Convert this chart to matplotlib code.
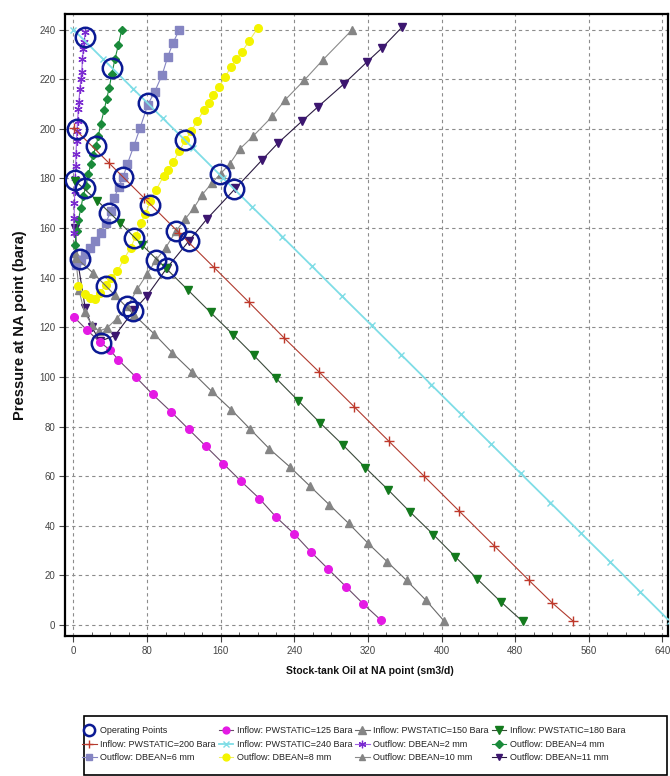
import matplotlib
matplotlib.use("Agg")
import matplotlib.pyplot as plt
from matplotlib.lines import Line2D
from matplotlib.patches import Rectangle
from matplotlib.ticker import MultipleLocator

plt.rcParams['font.family'] = ['Liberation Sans', 'DejaVu Sans']

# ---------------- data ----------------
# Inflow (IPR) curves
q_in125 = [1, 15, 29, 40, 48.5, 67.7, 86, 106, 125, 144, 163, 182, 202, 220, 240, 258, 277, 296, 315, 334]
p_in125 = [124, 118.8, 114, 110.8, 107, 100, 93, 86, 79, 72, 65, 58, 51, 43.6, 36.7, 29.5, 22.5, 15.5, 8.5, 2]

q_in150 = [3, 21, 45, 66, 87.6, 107.5, 129, 150, 171.5, 192, 213, 235.6, 257, 278, 299, 320, 341, 362, 383, 403]
p_in150 = [148, 142, 133, 125, 117.4, 109.7, 102, 94.3, 86.8, 79, 71, 63.6, 56, 48.5, 41, 33, 25.5, 18, 10, 1.5]

q_in180 = [2, 26, 51, 75, 100, 124.5, 149, 173.7, 196, 220, 244, 268, 293, 317, 342, 366, 391, 415, 439, 464, 488]
p_in180 = [179, 171, 162, 153, 144, 135, 126, 117, 108.7, 99.5, 90.5, 81.5, 72.5, 63.5, 54.5, 45.5, 36.5, 27.5, 18.5, 9.5, 1.5]

q_in200 = [0.7, 38.7, 76.6, 114.5, 152.3, 190.5, 228.7, 267, 305, 343, 381, 419, 457, 495, 520, 543]
p_in200 = [200.2, 186.2, 172.2, 158.2, 144.3, 130.2, 115.8, 102, 88, 74, 60, 46, 32, 18, 9, 1.6]

q_in240 = [0, 32, 65, 97, 130, 162, 194, 227, 259, 292, 324, 356, 389, 421, 454, 486, 518, 551, 583, 616, 648]
p_in240 = [240, 228.2, 216.1, 204.3, 192.2, 180.4, 168.6, 156.5, 144.7, 132.5, 120.8, 109, 96.8, 85, 72.9, 61.1, 49.4, 37.2, 25.5, 13.3, 1.5]

# Outflow (choke / VLP) curves
q_out2 = [0.3, 0.7, 1.0, 1.5, 1.9, 2.4, 2.8, 3.3, 3.8, 4.4, 5.4, 6.0, 6.9, 8.0, 9.0, 9.8, 10.7, 11.6, 12.7]
p_out2 = [158, 164, 170, 175, 180, 185, 190, 195, 199, 203, 208, 211, 216, 220, 223, 228, 232, 235, 239]

q_out4 = [1.5, 3.3, 5.4, 8, 10.5, 13.4, 16.3, 18.8, 21.5, 24.3, 27, 29.6, 33.3, 36, 38.8, 41.6, 45, 48.9, 52.5]
p_out4 = [153, 158.7, 163.4, 168, 172.8, 176.8, 181.7, 186, 189.5, 193, 197, 202, 207.5, 212, 216.4, 222, 228, 234, 240]

q_out6 = [3, 8, 13, 18, 23, 29.6, 35, 40.5, 44.2, 49, 53.9, 58.7, 65.5, 72.5, 80.7, 88.3, 96.3, 102.4, 108, 115]
p_out6 = [145, 147, 149.5, 152, 155, 158, 162, 166.7, 172, 176.5, 180.5, 186, 193, 200.5, 209.7, 215, 221.7, 229, 234.5, 240]

q_out8 = [5, 12, 18, 23, 29, 35, 41, 47.8, 55, 62, 68, 73, 78, 83.6, 90, 98, 103, 108, 115, 121.6, 128, 134, 142, 147, 152, 158, 165, 171, 177, 183, 191, 200]
p_out8 = [136.5, 133.5, 132, 131.5, 134, 137, 140, 142.6, 147.6, 152, 157, 162, 165.5, 170.8, 175.5, 181, 183.5, 186.5, 191, 195.6, 199, 203, 207.6, 210.5, 213.7, 217, 221, 225, 228, 231, 235.5, 240.5]

q_out10 = [2, 6, 12, 20, 28, 36.6, 47, 58.6, 69.5, 80, 90, 100, 111.8, 121, 130.6, 139.7, 150, 160, 170, 181, 195, 216, 230, 251, 271, 303]
p_out10 = [150, 135, 126, 121, 118.5, 119.8, 123.5, 128.5, 135.5, 141.5, 147.3, 152, 159, 163.5, 168, 173.4, 178, 182, 186, 192, 197, 205, 211.7, 219.7, 227.8, 240]

q_out11 = [1.8, 4.3, 12.7, 20, 29, 45, 66, 80, 101.7, 125.2, 145, 176, 205, 222.6, 248, 266, 293.5, 319, 335, 357]
p_out11 = [160, 147.3, 128, 120, 114.4, 116.7, 127, 132.8, 144, 154.7, 163.7, 176, 187.5, 194.4, 203, 209, 218, 227, 232.5, 241]

# Operating points
q_op = [13, 41.6, 81.4, 121.6, 158.9, 174.8, 3.5, 24.3, 53.5, 82.8, 111.8, 125.2,
        1.9, 12.3, 38.7, 65.5, 90, 101.7, 7, 35, 58.6, 65.1, 29.6]
p_op = [237, 224.4, 210.3, 195.6, 181.9, 175.9, 200, 193, 180.8, 169.4, 159, 154.7,
        179.3, 176, 166, 156, 147.3, 144, 147.5, 136.8, 128.5, 126.5, 113.8]

x_ticks = [0, 80, 160, 240, 320, 400, 480, 560, 640]
y_ticks = [0, 20, 40, 60, 80, 100, 120, 140, 160, 180, 200, 220, 240]

# ---------------- figure ----------------
W, H = 670, 776
fig = plt.figure(figsize=(W / 100, H / 100), dpi=100)
ax = fig.add_axes([65 / W, 1 - 636 / H, (668 - 65) / W, (636 - 14) / H])

# outflow curves
ax.plot(q_out11, p_out11, color='#2a1a40', lw=0.8, marker='v', ms=5.5,
        mfc='#3c1670', mec='#3c1670', label='Outflow: DBEAN=11 mm', zorder=3)
ax.plot(q_out10, p_out10, color='#8a8a8a', lw=0.8, marker='^', ms=5.5,
        mfc='#858585', mec='#858585', label='Outflow: DBEAN=10 mm', zorder=3)
ax.plot(q_out8, p_out8, color='#f0f060', lw=0.8, marker='o', ms=5.5,
        mfc='#f4f400', mec='#f4f400', label='Outflow: DBEAN=8 mm', zorder=3)
ax.plot(q_out6, p_out6, color='#8585c2', lw=0.8, marker='s', ms=5.5,
        mfc='#8585c2', mec='#8585c2', label='Outflow: DBEAN=6 mm', zorder=3)
ax.plot(q_out4, p_out4, color='#1a8a3a', lw=0.8, marker='D', ms=4,
        mfc='#1a8a3a', mec='#1a8a3a', label='Outflow: DBEAN=4 mm', zorder=3)
ax.plot(q_out2, p_out2, color='#a060e0', lw=0.8, marker=(6, 2, 0), ms=6,
        mec='#7a2ad0', mew=0.9, label='Outflow: DBEAN=2 mm', zorder=3)

# inflow curves
ax.plot(q_in240, p_in240, color='#7fdde6', lw=1.3, marker='x', ms=5,
        mec='#7fdde6', mew=1.0, label='Inflow: PWSTATIC=240 Bara', zorder=3)
ax.plot(q_in200, p_in200, color='#b03a2e', lw=0.8, marker='+', ms=7,
        mec='#c0392b', mew=1.0, label='Inflow: PWSTATIC=200 Bara', zorder=3)
ax.plot(q_in180, p_in180, color='#3a4a3a', lw=0.8, marker='v', ms=6,
        mfc='#137a1d', mec='#137a1d', label='Inflow: PWSTATIC=180 Bara', zorder=3)
ax.plot(q_in150, p_in150, color='#6a6a6a', lw=0.8, marker='^', ms=6,
        mfc='#858585', mec='#858585', label='Inflow: PWSTATIC=150 Bara', zorder=3)
ax.plot(q_in125, p_in125, color='#6a4a6a', lw=0.8, marker='o', ms=5.5,
        mfc='#e41ae4', mec='#e41ae4', label='Inflow: PWSTATIC=125 Bara', zorder=3)

# operating points
ax.plot(q_op, p_op, ls='none', marker='o', ms=14, mfc='none', mec='#0b1a94',
        mew=1.8, label='Operating Points', zorder=4)

ax.set_xlim(-9.2, 646)
ax.set_ylim(-4.4, 246.3)
ax.set_xticks(x_ticks)
ax.set_yticks(y_ticks)
ax.xaxis.set_minor_locator(MultipleLocator(20))
ax.grid(True, which='major', color='#8c8c8c', ls=(0, (3, 3)), lw=0.8)
ax.set_axisbelow(True)
for s in ax.spines.values():
    s.set_linewidth(1.6)
    s.set_color('black')
ax.tick_params(axis='both', which='major', length=4, width=0.8, labelsize=7,
               labelcolor='#444444', color='#444444', direction='out', pad=3)
ax.tick_params(axis='x', which='minor', length=3, width=0.6, direction='in', color='#444444')

ax.set_xlabel('Stock-tank Oil at NA point (sm3/d)', fontsize=7.5, fontweight='bold',
              color='#111111')
ax.xaxis.set_label_coords((370 - 65) / 603, -(666 - 636) / 622)
ax.set_ylabel('Pressure at NA point (bara)', fontsize=10.5, fontweight='bold',
              color='#111111')
ax.yaxis.set_label_coords(-(65 - 27) / 603, (636 - 325) / 622)

# legend (row-major layout in 4 columns)
h, l = ax.get_legend_handles_labels()
d = dict(zip(l, h))
rows = [['Operating Points', 'Inflow: PWSTATIC=125 Bara', 'Inflow: PWSTATIC=150 Bara', 'Inflow: PWSTATIC=180 Bara'],
        ['Inflow: PWSTATIC=200 Bara', 'Inflow: PWSTATIC=240 Bara', 'Outflow: DBEAN=2 mm', 'Outflow: DBEAN=4 mm'],
        ['Outflow: DBEAN=6 mm', 'Outflow: DBEAN=8 mm', 'Outflow: DBEAN=10 mm', 'Outflow: DBEAN=11 mm']]
order = [rows[r][c] for c in range(4) for r in range(3)]
hs = []
for name in order:
    if name == 'Operating Points':
        hs.append(Line2D([], [], ls='none', marker='o', ms=9, mfc='none', mec='#0b1a94', mew=1.8))
    else:
        hs.append(d[name])
leg = fig.legend(hs, order, ncol=4, loc='upper left', bbox_to_anchor=(79 / W, 1 - 723 / H),
                 fontsize=6.5, frameon=False,
                 handlelength=1.6, handletextpad=0.4, columnspacing=0.33,
                 labelspacing=0.5, borderpad=0.35, borderaxespad=0, markerscale=0.9)
for t in leg.get_texts():
    t.set_color('#222222')
fig.add_artist(Rectangle((84 / W, 1 - 775 / H), (667 - 84) / W, (775 - 716) / H,
                         transform=fig.transFigure, fill=False, ec='black', lw=1.2))

fig.savefig('out.png', dpi=100)
